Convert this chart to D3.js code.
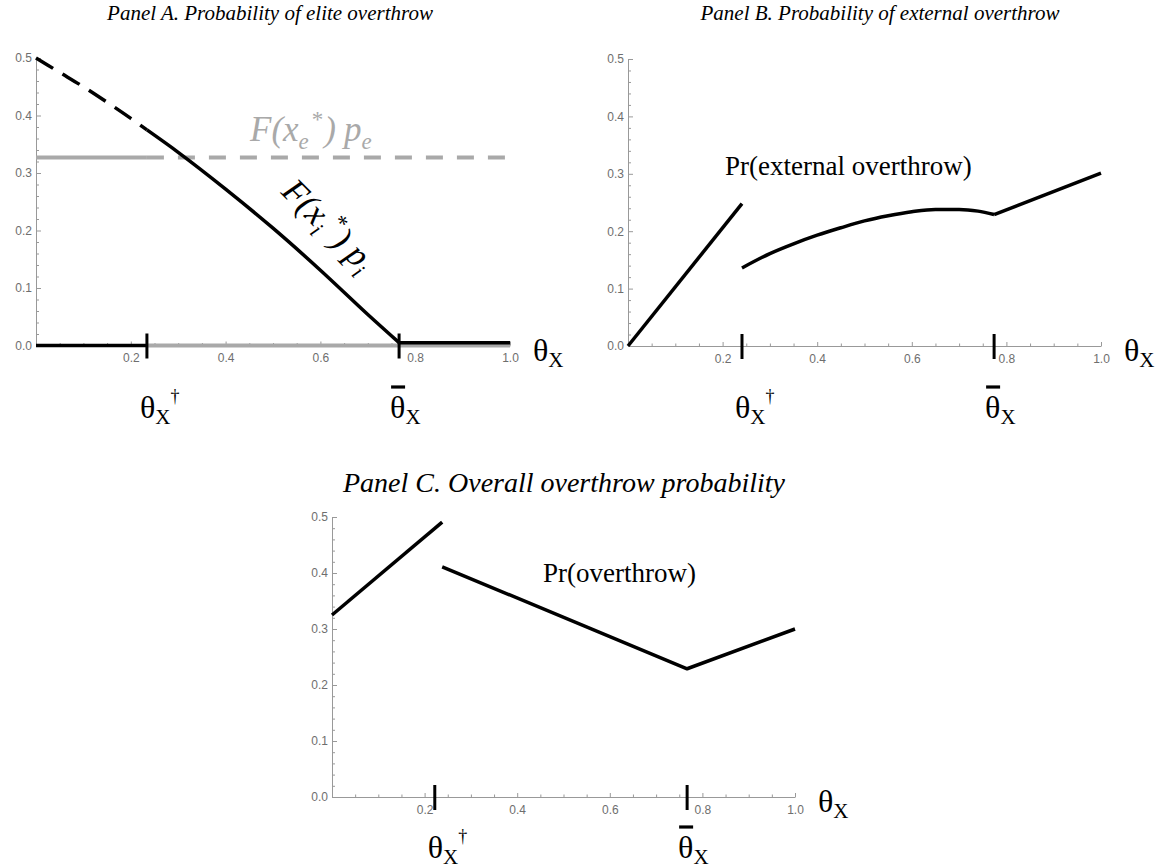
<!DOCTYPE html>
<html>
<head>
<meta charset="utf-8">
<script src="https://cdn.jsdelivr.net/npm/d3@7"></script>
<style>
  html, body { margin: 0; padding: 0; background: #fff; }
  svg { display: block; }
</style>
</head>
<body>
<svg id="chart" width="1164" height="868"></svg>
<script>
// ---------------- DATA ----------------
const xTickValues = [0.2, 0.4, 0.6, 0.8, 1.0];
const yTickValues = [0.0, 0.1, 0.2, 0.3, 0.4, 0.5];

const panelTitles = [
  "Panel A. Probability of elite overthrow",
  "Panel B. Probability of external overthrow",
  "Panel C. Overall overthrow probability"
];

// Panel A — elite overthrow
const aInsiderDashedTheta = [0, 0.05, 0.10, 0.15, 0.20, 0.234];
const aInsiderDashedValue = [0.500, 0.475, 0.450, 0.423, 0.395, 0.375];
const aInsiderSolidTheta  = [0.234, 0.30, 0.40, 0.50, 0.60, 0.70, 0.766];
const aInsiderSolidValue  = [0.375, 0.336, 0.272, 0.204, 0.131, 0.054, 0.005];
const aInsiderFlatTheta   = [0.766, 1.0];
const aInsiderFlatValue   = [0.005, 0.005];
const aInsiderBaseTheta   = [0, 0.234];
const aInsiderBaseValue   = [0, 0];
const aEliteSolidTheta    = [0, 0.234];
const aEliteSolidValue    = [0.327, 0.327];
const aEliteDashedTheta   = [0.234, 1.0];
const aEliteDashedValue   = [0.327, 0.327];
const aEliteBaseTheta     = [0.234, 1.0];
const aEliteBaseValue     = [0, 0];
const aMarkers            = [0.234, 0.766];

// Panel B — external overthrow
const bSeg1Theta = [0, 0.241];
const bSeg1Value = [0, 0.248];
const bSeg2Theta = [0.241, 0.30, 0.35, 0.40, 0.45, 0.50, 0.55, 0.60, 0.65, 0.70, 0.74, 0.774];
const bSeg2Value = [0.136, 0.161, 0.178, 0.193, 0.206, 0.218, 0.227, 0.234, 0.238, 0.238, 0.235, 0.229];
const bSeg3Theta = [0.774, 1.0];
const bSeg3Value = [0.229, 0.301];
const bMarkers   = [0.241, 0.774];

// Panel C — overall overthrow
const cSeg1Theta = [0, 0.238];
const cSeg1Value = [0.325, 0.491];
const cSeg2Theta = [0.238, 0.767, 1.0];
const cSeg2Value = [0.411, 0.229, 0.300];
const cMarkers   = [0.222, 0.767];

// ---------------- DRAWING ----------------
const svg = d3.select("#chart");
const SERIF = "'Liberation Serif','Times New Roman',Times,serif";
const SANS = "'Liberation Sans',Arial,sans-serif";
const GRAY = "#a9a9a9";

const zip = (xs, ys) => xs.map((t, i) => [t, ys[i]]);

function makePanel(cfg) {
  const x = d3.scaleLinear().domain([0, 1]).range([cfg.x0, cfg.x1]);
  const y = d3.scaleLinear().domain([0, 0.5]).range([cfg.y0, cfg.yTop]);
  const g = svg.append("g");

  const yMinor = d3.range(0, 0.5001, 0.02).filter(v => Math.abs(v * 10 - Math.round(v * 10)) > 1e-6);
  const xMinor = d3.range(0.05, 1.0001, 0.05).filter(v => Math.abs(v * 5 - Math.round(v * 5)) > 1e-6);

  // y axis
  g.append("g").attr("transform", `translate(${x(0)},0)`)
    .call(d3.axisLeft(y).tickValues(yMinor).tickSize(-3).tickSizeOuter(0).tickFormat(""))
    .call(s => s.select(".domain").remove());
  g.append("g").attr("transform", `translate(${x(0)},0)`)
    .call(d3.axisLeft(y).tickValues(yTickValues).tickSize(-5).tickSizeOuter(0).tickPadding(4).tickFormat(d3.format(".1f")));
  // x axis
  g.append("g").attr("transform", `translate(0,${y(0)})`)
    .call(d3.axisBottom(x).tickValues(xMinor).tickSize(-2.5).tickSizeOuter(0).tickFormat(""))
    .call(s => s.select(".domain").remove());
  g.append("g").attr("transform", `translate(0,${y(0)})`)
    .call(d3.axisBottom(x).tickValues(xTickValues).tickSize(-4).tickSizeOuter(0).tickPadding(8).tickFormat(d3.format(".1f")));

  g.selectAll(".domain").attr("stroke", "#999").attr("stroke-width", 1);
  g.selectAll(".tick line").attr("stroke", "#999").attr("stroke-width", 1);
  g.selectAll(".tick text").attr("fill", "#6e6e6e").attr("font-family", SANS).attr("font-size", 12);

  // title
  g.append("text").attr("x", cfg.titleX).attr("y", cfg.titleY)
    .attr("text-anchor", "middle")
    .style("font-family", SERIF).style("font-style", "italic").style("font-size", cfg.titleSize + "px")
    .text(cfg.title);

  // axis label theta_X
  const ax = g.append("text").attr("x", x(1) + 23).attr("y", y(0) + 15)
    .style("font-family", SERIF).style("font-size", "32px");
  ax.append("tspan").text("θ");
  ax.append("tspan").attr("dy", 6).style("font-size", "21px").text("X");

  return { g, x, y };
}

function line(g, x, y, data, opts) {
  const gen = d3.line().x(d => x(d[0])).y(d => y(d[1])).curve(opts.curve || d3.curveLinear);
  g.append("path").attr("d", gen(data))
    .attr("fill", "none")
    .attr("stroke", opts.color || "#000")
    .attr("stroke-width", opts.width || 3.5)
    .attr("stroke-dasharray", opts.dash || null)
    .attr("stroke-linecap", opts.cap || "butt")
    .attr("stroke-linejoin", "round");
}

function markers(g, x, y, thetas, labelY) {
  thetas.forEach((t, i) => {
    g.append("line").attr("x1", x(t)).attr("x2", x(t))
      .attr("y1", y(0) - 12).attr("y2", y(0) + 13)
      .attr("stroke", "#000").attr("stroke-width", 3);
    const tx = x(t) - (i === 0 ? 7 : 9);
    const lbl = g.append("text").attr("x", tx).attr("y", labelY)
      .style("font-family", SERIF).style("font-size", "32px");
    lbl.append("tspan").text("θ");
    lbl.append("tspan").attr("dy", 6).style("font-size", "21px").text("X");
    if (i === 0) {
      lbl.append("tspan").attr("dy", -22).style("font-size", "18px").text("†");
    } else {
      g.append("line").attr("x1", tx + 1).attr("x2", tx + 15)
        .attr("y1", labelY - 31).attr("y2", labelY - 31)
        .attr("stroke", "#000").attr("stroke-width", 3.2);
    }
  });
}

function fLabel(g, transform, sub, color) {
  const t = g.append("text").attr("transform", transform)
    .style("font-family", SERIF).style("font-style", "italic").style("font-size", "35px").attr("fill", color);
  t.append("tspan").text("F(x");
  t.append("tspan").attr("dy", 8).style("font-size", "23px").text(sub);
  t.append("tspan").attr("dy", -22).attr("dx", 3).style("font-size", "23px").style("font-style", "normal").text("*");
  t.append("tspan").attr("dy", 14).attr("dx", 1).text(")");
  t.append("tspan").attr("dx", 8).text("p");
  t.append("tspan").attr("dy", 8).style("font-size", "23px").text(sub);
}

// ---- Panel A ----
{
  const { g, x, y } = makePanel({ x0: 36, x1: 510, y0: 345.5, yTop: 58, title: panelTitles[0], titleX: 270, titleY: 20, titleSize: 21 });
  line(g, x, y, zip(aEliteBaseTheta, aEliteBaseValue), { color: GRAY, width: 4 });
  line(g, x, y, zip(aEliteSolidTheta, aEliteSolidValue), { color: GRAY, width: 4 });
  line(g, x, y, zip(aEliteDashedTheta, aEliteDashedValue), { color: GRAY, width: 4, dash: "17,14" });
  line(g, x, y, zip(aInsiderBaseTheta, aInsiderBaseValue), { width: 3.5 });
  line(g, x, y, zip(aInsiderDashedTheta, aInsiderDashedValue), { width: 3.5, dash: "20,11", curve: d3.curveMonotoneX });
  line(g, x, y, zip(aInsiderSolidTheta, aInsiderSolidValue), { width: 3.5, curve: d3.curveMonotoneX });
  line(g, x, y, zip(aInsiderFlatTheta, aInsiderFlatValue), { width: 3.5 });
  markers(g, x, y, aMarkers, 418);

  fLabel(g, "translate(250,141)", "e", GRAY);
  fLabel(g, "translate(280,193) rotate(45)", "i", "#000");
}

// ---- Panel B ----
{
  const { g, x, y } = makePanel({ x0: 628, x1: 1101, y0: 346, yTop: 59, title: panelTitles[1], titleX: 880, titleY: 20, titleSize: 21 });
  line(g, x, y, zip(bSeg1Theta, bSeg1Value), {});
  line(g, x, y, zip(bSeg2Theta, bSeg2Value), { curve: d3.curveMonotoneX });
  line(g, x, y, zip(bSeg3Theta, bSeg3Value), {});
  markers(g, x, y, bMarkers, 418);
  g.append("text").attr("x", 725).attr("y", 175)
    .style("font-family", SERIF).style("font-size", "27px").text("Pr(external overthrow)");
}

// ---- Panel C ----
{
  const { g, x, y } = makePanel({ x0: 332, x1: 795, y0: 797, yTop: 517, title: panelTitles[2], titleX: 564, titleY: 492, titleSize: 28 });
  line(g, x, y, zip(cSeg1Theta, cSeg1Value), {});
  line(g, x, y, zip(cSeg2Theta, cSeg2Value), {});
  markers(g, x, y, cMarkers, 858);
  g.append("text").attr("x", 543).attr("y", 582)
    .style("font-family", SERIF).style("font-size", "27px").text("Pr(overthrow)");
}
</script>
</body>
</html>
